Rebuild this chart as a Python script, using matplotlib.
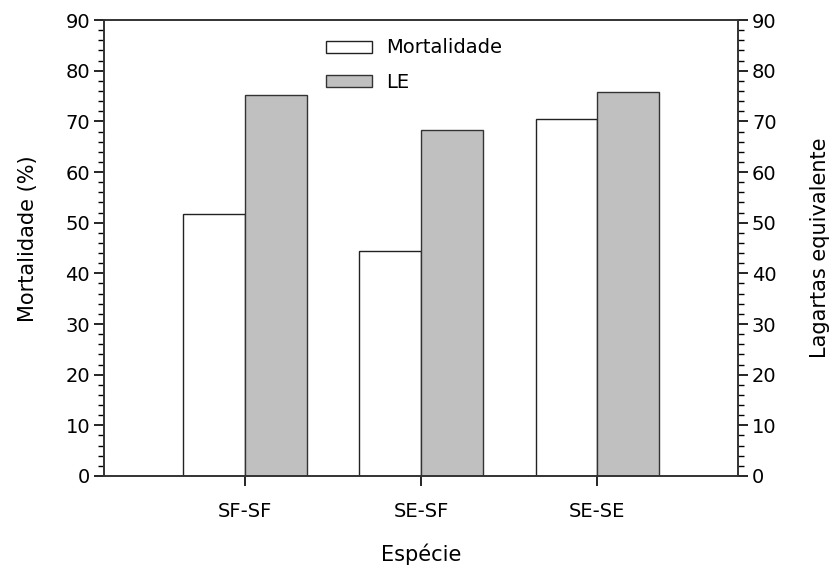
import matplotlib
matplotlib.use("Agg")
import matplotlib.pyplot as plt
from matplotlib.ticker import MultipleLocator
import numpy as np

plt.rcParams['font.family'] = ['DejaVu Sans']

categories = ["SF-SF", "SE-SF", "SE-SE"]
mortalidade = [51.8, 44.5, 70.5]
le = [75.2, 68.2, 75.7]
yticks = [0, 10, 20, 30, 40, 50, 60, 70, 80, 90]

fig = plt.figure(figsize=(8.34, 5.73), dpi=100)
ax = fig.add_axes([0.1247, 0.1693, 0.7603, 0.7957])

x = np.arange(1, len(categories) + 1)
w = 0.35
ax.bar(x - w / 2, mortalidade, width=w, color="white", edgecolor="#222222",
       linewidth=1.0, label="Mortalidade")
ax.bar(x + w / 2, le, width=w, color="#c0c0c0", edgecolor="#333333",
       linewidth=1.0, label="LE")

ax.set_xlim(0.2, 3.8)
ax.set_ylim(0, 90)
ax.set_xticks(x)
ax.set_xticklabels(categories, fontsize=14)
ax.set_yticks(yticks)
ax.set_yticklabels([str(v) for v in yticks], fontsize=14)
ax.yaxis.set_minor_locator(MultipleLocator(2))
ax.tick_params(axis="y", which="major", direction="out", length=7, width=1.2, pad=3)
ax.tick_params(axis="y", which="minor", direction="out", length=4, width=1)
ax.tick_params(axis="x", which="major", direction="out", length=7, width=1.2, pad=12)
ax.set_xlabel("Espécie", fontsize=15)
ax.xaxis.set_label_coords(0.5, -0.147)
ax.set_ylabel("Mortalidade (%)", fontsize=15)
ax.yaxis.set_label_coords(-0.104, 0.52)

ax2 = ax.twinx()
ax2.set_ylim(0, 90)
ax2.set_yticks(yticks)
ax2.set_yticklabels([str(v) for v in yticks], fontsize=14)
ax2.yaxis.set_minor_locator(MultipleLocator(2))
ax2.tick_params(axis="y", which="major", direction="out", length=7, width=1.2, pad=3)
ax2.tick_params(axis="y", which="minor", direction="out", length=4, width=1)
ax2.set_ylabel("Lagartas equivalente", fontsize=15)
ax2.yaxis.set_label_coords(1.113, 0.5)

for a in (ax, ax2):
    for s in a.spines.values():
        s.set_linewidth(1.2)
        s.set_color("#333333")

ax.legend(loc="upper left", bbox_to_anchor=(0.322, 0.998), frameon=False,
          fontsize=14, handlelength=2.4, handleheight=0.57,
          labelspacing=0.8, handletextpad=0.72)

fig.savefig("out.png", dpi=100)
